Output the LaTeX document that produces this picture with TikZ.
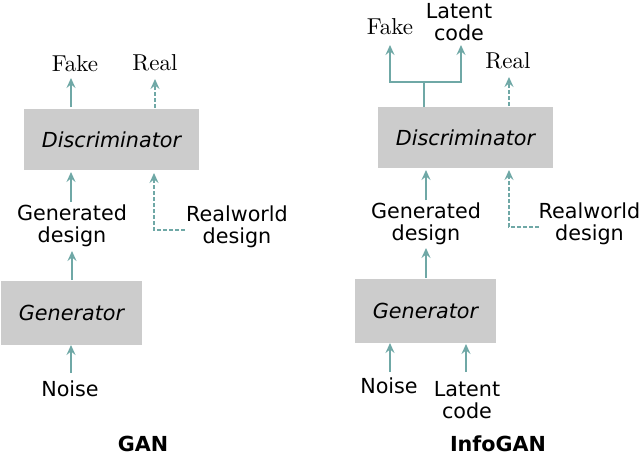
\documentclass[tikz,border=0pt]{standalone}
\usepackage{fontspec}
\setsansfont{DejaVu Sans}
\newfontfamily\cmten{lmroman10-regular.otf}
\usetikzlibrary{arrows.meta}
\definecolor{linkteal}{HTML}{6FA8A6}
\definecolor{boxgray}{HTML}{CCCCCC}
\tikzset{
  ganbox/.style={fill=boxgray,draw=none,inner sep=0pt,font=\sffamily\itshape\fontsize{20.7}{22}\selectfont},
  ganlbl/.style={align=center,inner sep=0pt,font=\sffamily\fontsize{20.7}{22}\selectfont},
  ganout/.style={inner sep=0pt,font=\cmten\fontsize{23}{25}\selectfont},
  gantitle/.style={inner sep=0pt,font=\sffamily\bfseries\fontsize{20.7}{22}\selectfont},
  ganlink/.style={draw=linkteal,line width=1.5pt,-{Stealth[length=10pt,width=9pt,inset=3.5pt]}},
  ganstem/.style={draw=linkteal,line width=1.5pt},
  gandash/.style={ganlink,line width=1.3pt,dash pattern=on 4pt off 2pt},
}
\begin{document}
\begin{tikzpicture}[x=1pt,y=-1pt]
  \useasboundingbox (0,0) rectangle (640,456);

  % GAN
  \node[ganbox,minimum width=175pt,minimum height=61pt] (d1) at (111.5,139.5) {Discriminator};
  \node[ganbox,minimum width=141pt,minimum height=64pt] (g1) at (71.5,313) {Generator};
  \node[ganout] (fake1) at (75,64) {Fake};
  \node[ganout] (real1) at (155,63) {Real};
  \node[ganlbl] (gd1) at (72,226) {Generated\\design};
  \node[ganlbl] (rw1) at (237,227) {Realworld\\design};
  \node[ganlbl] (noise1) at (70,389) {Noise};
  \node[gantitle] (t1) at (143,444) {GAN};

  \coordinate (f1a) at (71,107);  \coordinate (f1b) at (71,78);
  \coordinate (r1a) at (155,108); \coordinate (r1b) at (155,79);
  \coordinate (i1a) at (71,202); \coordinate (i1b) at (71,172);
  \coordinate (w1a) at (185,230); \coordinate (w1c) at (154,230); \coordinate (w1b) at (154,173);
  \coordinate (o1a) at (72,280);  \coordinate (o1b) at (72,251);
  \coordinate (n1a) at (71,373);  \coordinate (n1b) at (71,345);

  \draw[ganlink] (f1a) -- (f1b);
  \draw[gandash] (r1a) -- (r1b);
  \draw[ganlink] (i1a) -- (i1b);
  \draw[gandash] (w1a) -- (w1c) -- (w1b);
  \draw[ganlink] (o1a) -- (o1b);
  \draw[ganlink] (n1a) -- (n1b);

  % InfoGAN
  \node[ganbox,minimum width=175pt,minimum height=61pt] (d2) at (465.5,137.5) {Discriminator};
  \node[ganbox,minimum width=141pt,minimum height=64pt] (g2) at (425.5,311) {Generator};
  \node[ganout] (fake2) at (390,27) {Fake};
  \node[ganlbl] (lc2) at (459,22) {Latent\\code};
  \node[ganout] (real2) at (508,61) {Real};
  \node[ganlbl] (gd2) at (426,224) {Generated\\design};
  \node[ganlbl] (rw2) at (589.5,224) {Realworld\\design};
  \node[ganlbl] (noise2) at (389,386) {Noise};
  \node[ganlbl] (li2) at (467,400) {Latent\\code};
  \node[gantitle] (t2) at (498,444) {InfoGAN};

  \coordinate (s2a) at (424,107); \coordinate (s2b) at (424,82);
  \coordinate (f2c) at (390,82);  \coordinate (f2b) at (390,45);
  \coordinate (l2c) at (461,82);  \coordinate (l2b) at (461,45);
  \coordinate (r2a) at (509,106); \coordinate (r2b) at (509,77);
  \coordinate (i2a) at (426,200); \coordinate (i2b) at (426,170);
  \coordinate (w2a) at (539,227); \coordinate (w2c) at (509,227); \coordinate (w2b) at (509,170);
  \coordinate (o2a) at (426,278); \coordinate (o2b) at (426,248);
  \coordinate (n2a) at (390,372); \coordinate (n2b) at (390,343);
  \coordinate (c2a) at (466,372); \coordinate (c2b) at (466,344);

  \draw[ganstem] (s2a) -- (s2b);
  \draw[ganlink] (s2b) -- (f2c) -- (f2b);
  \draw[ganlink] (s2b) -- (l2c) -- (l2b);
  \draw[gandash] (r2a) -- (r2b);
  \draw[ganlink] (i2a) -- (i2b);
  \draw[gandash] (w2a) -- (w2c) -- (w2b);
  \draw[ganlink] (o2a) -- (o2b);
  \draw[ganlink] (n2a) -- (n2b);
  \draw[ganlink] (c2a) -- (c2b);
\end{tikzpicture}
\end{document}
